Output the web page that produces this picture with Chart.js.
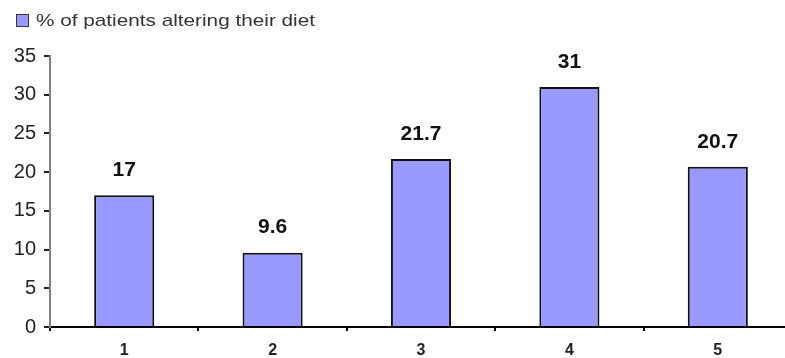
<!DOCTYPE html>
<html lang="en">
<head>
  <meta charset="UTF-8">
  <title>Patients altering their diet</title>
  <script src="https://cdn.jsdelivr.net/npm/chart.js"></script>
  <style>
    body {
      margin: 0;
      background: #fff;
      overflow: hidden;
      font-family: Arial, "Liberation Sans", sans-serif;
    }
    .wrap {
      position: relative;
      width: 785px;
      height: 358px;
      overflow: hidden;
    }
    .legend {
      position: absolute;
      left: 16px;
      top: 11px;
      font-size: 17px;
      color: #333;
      white-space: nowrap;
    }
    .legend span {
      display: inline-block;
      width: 11px;
      height: 11px;
      background: #9999ff;
      border: 1px solid #333;
      margin-right: 7px;
      vertical-align: -1px;
    }
    .legend b {
      font-weight: normal;
      display: inline-block;
      transform: scaleX(1.22);
      transform-origin: left center;
    }
    canvas {
      position: absolute;
      left: 0;
      top: 0;
    }
  </style>
</head>
<body>

<div class="wrap">
  <canvas id="dietChart" width="792" height="358"></canvas>
  <div class="legend"><span></span><b>% of patients altering their diet</b></div>
</div>

<script>
const labels = ['1', '2', '3', '4', '5'];
const percentAltering = [17, 9.6, 21.7, 31, 20.7];
const yTicks = [0, 5, 10, 15, 20, 25, 30, 35];

// value written above each bar
const barValues = {
  id: 'barValues',
  afterDatasetsDraw(chart) {
    const ctx = chart.ctx;
    const meta = chart.getDatasetMeta(0);
    ctx.save();
    ctx.font = 'bold 21px Arial';
    ctx.fillStyle = '#111';
    ctx.textAlign = 'center';
    ctx.textBaseline = 'middle';
    meta.data.forEach((bar, i) => {
      ctx.fillText(String(percentAltering[i]), bar.x, bar.y - 25);
    });
    ctx.restore();
  }
};

new Chart(document.getElementById('dietChart'), {
  type: 'bar',
  data: {
    labels: labels,
    datasets: [{
      label: '% of patients altering their diet',
      data: percentAltering,
      backgroundColor: '#9999ff',
      borderColor: '#111',
      borderWidth: 2,
      borderSkipped: 'bottom',
      categoryPercentage: 1,
      barPercentage: 0.405
    }]
  },
  options: {
    responsive: false,
    animation: false,
    layout: { padding: { top: 56, left: 0, right: 0, bottom: 0 } },
    plugins: {
      legend: { display: false },
      tooltip: { enabled: false }
    },
    scales: {
      x: {
        afterFit(scale) { scale.height = 31; },
        border: { color: '#000', width: 2 },
        grid: { drawOnChartArea: false, drawTicks: true, tickLength: 4, color: '#000', lineWidth: 2 },
        ticks: { color: '#222', font: { size: 16, weight: 'bold', family: 'Arial' }, padding: 10 }
      },
      y: {
        min: 0,
        max: 35,
        afterFit(scale) { scale.width = 50; },
        afterBuildTicks(scale) { scale.ticks = yTicks.map(v => ({ value: v })); },
        border: { color: '#808080', width: 2 },
        grid: { drawOnChartArea: false, drawTicks: true, tickLength: 6, color: '#222', lineWidth: 2 },
        ticks: { color: '#222', font: { size: 20, family: 'Arial' }, padding: 8 }
      }
    }
  },
  plugins: [barValues]
});
</script>

</body>
</html>
